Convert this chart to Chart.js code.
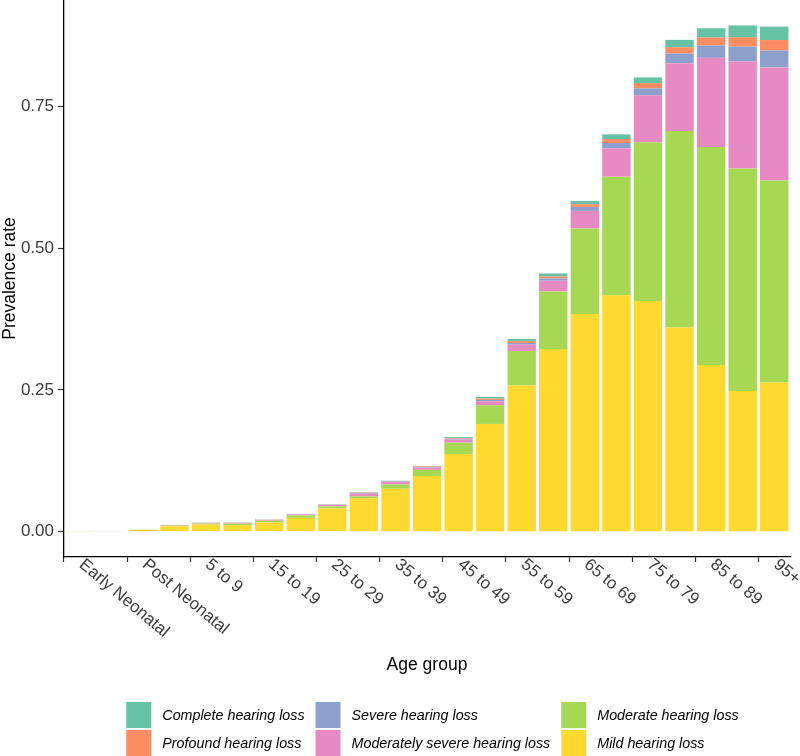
<!DOCTYPE html>
<html>
<head>
<meta charset="utf-8">
<script src="https://cdn.jsdelivr.net/npm/chart.js@4.4.0/dist/chart.umd.min.js"></script>
<style>
  body { margin: 0; background: #fff; }
</style>
</head>
<body>
<canvas id="myChart" width="800" height="756"></canvas>
<script>
// Grupos de edad (eje X)
const ageGroups = ["Early Neonatal", "Late Neonatal", "Post Neonatal", "1 to 4", "5 to 9", "10 to 14",
    "15 to 19", "20 to 24", "25 to 29", "30 to 34", "35 to 39", "40 to 44", "45 to 49", "50 to 54",
    "55 to 59", "60 to 64", "65 to 69", "70 to 74", "75 to 79", "80 to 84", "85 to 89", "90 to 94", "95+"];

// Prevalencia por severidad (de abajo hacia arriba en la pila)
const mild = [0.0008, 0.0009, 0.0030, 0.0095, 0.0125, 0.0115, 0.0162, 0.0245, 0.0410, 0.0587, 0.0757, 0.0980,
    0.1370, 0.1900, 0.2576, 0.3220, 0.3840, 0.4170, 0.4070, 0.3600, 0.2940, 0.2480, 0.2630];
const moderate = [0.0001, 0.0001, 0.0003, 0.0012, 0.0018, 0.0025, 0.0032, 0.0042, 0.0036, 0.0035, 0.0076, 0.0110,
    0.0200, 0.0330, 0.0611, 0.1017, 0.1507, 0.2090, 0.2800, 0.3465, 0.3843, 0.3923, 0.3562];
const moderatelySevere = [0.0001, 0.0001, 0.0002, 0.0008, 0.0011, 0.0012, 0.0013, 0.0018, 0.0025, 0.0047, 0.0042, 0.0040,
    0.0055, 0.0070, 0.0111, 0.0188, 0.0310, 0.0500, 0.0825, 0.1197, 0.1574, 0.1889, 0.1995];
const severe = [0, 0, 0, 0.0002, 0.0002, 0.0003, 0.0003, 0.0004, 0.0005, 0.0011, 0.0010, 0.0012,
    0.0015, 0.0024, 0.0029, 0.0041, 0.0070, 0.0094, 0.0123, 0.0171, 0.0217, 0.0264, 0.0299];
const profound = [0, 0, 0, 0.0002, 0.0002, 0.0003, 0.0003, 0.0003, 0.0004, 0.0008, 0.0007, 0.0010,
    0.0012, 0.0023, 0.0033, 0.0034, 0.0048, 0.0070, 0.0093, 0.0111, 0.0141, 0.0164, 0.0185];
const complete = [0, 0, 0, 0.0001, 0.0002, 0.0002, 0.0002, 0.0002, 0.0003, 0.0009, 0.0006, 0.0008,
    0.0015, 0.0030, 0.0038, 0.0054, 0.0058, 0.0083, 0.0100, 0.0130, 0.0164, 0.0208, 0.0237];

// Marcas del eje Y
const yTicks = [0, 0.25, 0.5, 0.75];

const FONT = '"Liberation Sans", Arial, Helvetica, sans-serif';
Chart.defaults.font.family = FONT;

// Dibuja las etiquetas inclinadas del eje X y la leyenda en tres columnas
const customText = {
    id: 'customText',
    afterDraw(chart) {
        const ctx = chart.ctx;
        const xScale = chart.scales.x;
        const area = chart.chartArea;
        ctx.save();

        // etiquetas del eje X (una sí, una no)
        ctx.fillStyle = '#3c3c3c';
        ctx.font = '17px ' + FONT;
        ctx.textAlign = 'left';
        ctx.textBaseline = 'top';
        ageGroups.forEach((label, i) => {
            if (i % 2) return;
            const x = xScale.getPixelForValue(i);
            ctx.save();
            ctx.translate(x + 7, area.bottom - 1);
            ctx.rotate(40 * Math.PI / 180);
            ctx.fillText(label, 0, 0);
            ctx.restore();
        });

        // leyenda
        ctx.font = 'italic 14.3px ' + FONT;
        ctx.textBaseline = 'middle';
        const items = chart.data.datasets.slice().reverse();
        const keyW = 25, keyH = 26, gapKey = 11, gapCol = 11;
        const cols = [];
        for (let c = 0; c < 3; c++) {
            const pair = items.slice(c * 2, c * 2 + 2);
            const w = Math.max(...pair.map(d => ctx.measureText(d.label).width));
            cols.push({pair, w});
        }
        const total = cols.reduce((s, c) => s + keyW + gapKey + c.w, 0) + gapCol * (cols.length - 1);
        let x = (area.left + area.right) / 2 + 5.5 - total / 2;
        const top = 702;
        cols.forEach(col => {
            col.pair.forEach((d, r) => {
                const y = top + r * (keyH + 2);
                ctx.fillStyle = d.backgroundColor;
                ctx.fillRect(x, y, keyW, keyH);
                ctx.fillStyle = '#000';
                ctx.fillText(d.label, x + keyW + gapKey, y + keyH / 2 + 1);
            });
            x += keyW + gapKey + col.w + gapCol;
        });
        ctx.restore();
    }
};

const ctx = document.getElementById('myChart').getContext('2d');
const myChart = new Chart(ctx, {
    type: 'bar',
    data: {
        labels: ageGroups,
        datasets: [
            {label: 'Mild hearing loss', data: mild, backgroundColor: '#FFD92F'},
            {label: 'Moderate hearing loss', data: moderate, backgroundColor: '#A6D854'},
            {label: 'Moderately severe hearing loss', data: moderatelySevere, backgroundColor: '#E78AC3'},
            {label: 'Severe hearing loss', data: severe, backgroundColor: '#8DA0CB'},
            {label: 'Profound hearing loss', data: profound, backgroundColor: '#FC8D62'},
            {label: 'Complete hearing loss', data: complete, backgroundColor: '#66C2A5'}
        ]
    },
    options: {
        responsive: false,
        animation: false,
        layout: {padding: {left: 0, right: 10, top: 0, bottom: 0}},
        datasets: {
            bar: {barPercentage: 0.9, categoryPercentage: 1.0, borderWidth: 0}
        },
        plugins: {
            legend: {display: false},
            tooltip: {enabled: false}
        },
        scales: {
            x: {
                stacked: true,
                offset: true,
                grid: {
                    drawOnChartArea: false,
                    tickLength: 5,
                    tickWidth: 1.2,
                    tickColor: c => (c.index % 2 === 0 ? '#333' : 'rgba(0,0,0,0)')
                },
                border: {color: '#000', width: 1.3},
                ticks: {display: false, autoSkip: false},
                title: {
                    display: true,
                    text: 'Age group',
                    color: '#000',
                    font: {size: 17.5},
                    padding: {top: 0, bottom: 80}
                },
                afterFit: scale => {
                    scale.height = 199;
                    scale.paddingLeft = 0;
                    scale.paddingRight = 0;
                }
            },
            y: {
                stacked: true,
                min: -0.0447,
                max: 0.9377,
                grid: {drawOnChartArea: false, tickLength: 6, tickWidth: 1.2, tickColor: '#333'},
                border: {color: '#000', width: 1.3},
                afterBuildTicks: scale => {
                    scale.ticks = yTicks.map(v => ({value: v}));
                },
                ticks: {
                    color: '#3c3c3c',
                    font: {size: 17},
                    padding: 4,
                    callback: v => Number(v).toFixed(2)
                },
                title: {
                    display: true,
                    text: 'Prevalence rate',
                    color: '#000',
                    font: {size: 17.5},
                    padding: {top: 0, bottom: 0}
                },
                afterFit: scale => {
                    scale.width = 64;
                    scale.paddingTop = 0;
                    scale.paddingBottom = 0;
                }
            }
        }
    },
    plugins: [customText]
});
</script>
</body>
</html>
